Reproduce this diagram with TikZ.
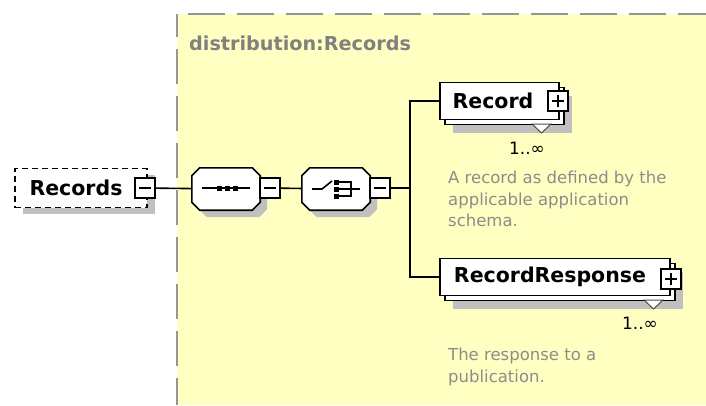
\documentclass[tikz,border=0pt]{standalone}
\usepackage{fontspec}
\setmainfont{DejaVu Sans}
\usepackage{tikz}
\usetikzlibrary{shadows, positioning}
\definecolor{panelfill}{RGB}{255,255,194}
\definecolor{paneldash}{RGB}{150,150,150}
\definecolor{titlegray}{RGB}{128,128,128}
\definecolor{docgray}{RGB}{140,140,140}
\definecolor{shadowgray}{RGB}{192,192,192}
\newcommand{\octPath}[1]{
  ([xshift=8pt]#1.north west) -- ([xshift=-8pt]#1.north east) -- ([yshift=-8pt]#1.north east)
  -- ([yshift=8pt]#1.south east) -- ([xshift=-8pt]#1.south east) -- ([xshift=8pt]#1.south west)
  -- ([yshift=8pt]#1.south west) -- ([yshift=-8pt]#1.north west) -- cycle
}
\newcommand{\compBox}[1]{
  \fill[shadowgray, transform canvas={xshift=7pt, yshift=-7pt}] \octPath{#1};
  \draw[line width=1.6pt, fill=white] \octPath{#1};
}
\tikzset{
  link/.style={line width=1.6pt},
  refelem/.style={draw, fill=white, line width=1.5pt, dash pattern=on 6pt off 4pt,
    minimum width=132pt, minimum height=39pt, inner sep=0pt,
    font=\fontsize{20.5}{24}\selectfont\bfseries,
    drop shadow={shadow xshift=8pt, shadow yshift=-6pt, fill=shadowgray, opacity=1}},
  elem/.style={draw, fill=white, line width=1.6pt, minimum height=37pt, inner sep=0pt,
    font=\fontsize{20.5}{24}\selectfont\bfseries,
    drop shadow={shadow xshift=13pt, shadow yshift=-13pt, fill=shadowgray, opacity=1},
    copy shadow={shadow xshift=5pt, shadow yshift=-5pt, fill=white, draw=black, line width=1.6pt}},
  compositor/.style={minimum width=68pt, minimum height=42pt, inner sep=0pt},
  minusbox/.style={draw, fill=white, line width=1.6pt, minimum width=20pt, minimum height=20pt, inner sep=0pt,
    path picture={\draw[line width=1.6pt] ([xshift=4pt]path picture bounding box.west) -- ([xshift=-4pt]path picture bounding box.east);}},
  plusbox/.style={minusbox,
    path picture={\draw[line width=1.6pt] ([xshift=4pt]path picture bounding box.west) -- ([xshift=-4pt]path picture bounding box.east)
      ([yshift=-4pt]path picture bounding box.north) -- ([yshift=4pt]path picture bounding box.south);}},
  occurs/.style={font=\fontsize{17}{20}\selectfont, inner sep=0pt},
  doc/.style={font=\fontsize{16.5}{21.5}\selectfont, text=docgray, align=left, inner sep=0pt, anchor=north west},
  mark tri/.style={draw=black!70, fill=white, line width=1pt}
}
\begin{document}
\begin{tikzpicture}[x=1pt, y=-1pt]
\useasboundingbox (0,0) rectangle (706,405);
\fill[panelfill] (177,14) rectangle (706,405);
\draw[paneldash, line width=2pt, dash pattern=on 37pt off 12pt, dash phase=38pt] (177,14) -- (706,14);
\draw[paneldash, line width=2pt, dash pattern=on 35pt off 12pt, dash phase=12pt] (177,14) -- (177,405);
\node[anchor=west, text=titlegray, font=\fontsize{19.2}{22}\selectfont\bfseries, inner sep=0pt] (title) at (189,43) {distribution:Records};

\node[refelem] (records) at (81,188) {Records\hspace*{10pt}};
\node[minusbox] (recordsMinus) at (145,188) {};

\node[compositor] (seq) at (226,189) {};
\compBox{seq}
\node[minusbox] (seqMinus) at (270,188) {};
\begin{scope}[shift={(seq.center)}]
  \draw[line width=1.6pt] (-24,-1) -- (24,-1);
  \foreach \dx in {-7,1,9}
    \fill (\dx-2.5,-3.5) rectangle ++(5,5);
\end{scope}

\node[compositor] (choice) at (336,189) {};
\compBox{choice}
\node[minusbox] (choiceMinus) at (380,188) {};
\begin{scope}[shift={(choice.center)}]
  \draw[line width=1.6pt] (-24,0) -- (-14,0) -- (-4,-8);
  \foreach \dy in {-7,0,7}
    \fill (-2.5,\dy-2.5) rectangle ++(5,5);
  \draw[line width=1.6pt] (2,-7) -- (15,-7) -- (15,7) -- (2,7) (2,0) -- (24,0);
\end{scope}

\node[elem, minimum width=119pt] (record) at (499.5,101) {Record\hspace*{13pt}};
\node[plusbox] (recordPlus) at (558,101) {};
\draw[mark tri] (532,124) -- (551,124) -- (541.5,133) -- cycle;
\node[occurs] (recordOcc) at (527,148) {1..∞};
\node[doc] (recordDoc) at (448,171) {A record as defined by the\\applicable application\\schema.};

\node[elem, minimum width=230pt] (resp) at (555,277) {RecordResponse\hspace*{10pt}};
\node[plusbox] (respPlus) at (671,279) {};
\draw[mark tri] (644,300) -- (663,300) -- (653.5,309) -- cycle;
\node[occurs] (respOcc) at (640,323) {1..∞};
\node[doc] (respDoc) at (448,348) {The response to a\\publication.};

\coordinate (fork) at (410,188);
\draw[link] (recordsMinus) -- (seq);
\draw[link] (seqMinus) -- (choice);
\draw[link] (choiceMinus) -- (fork);
\draw[link] (fork) |- (record);
\draw[link] (fork) |- (resp);
\end{tikzpicture}
\end{document}
